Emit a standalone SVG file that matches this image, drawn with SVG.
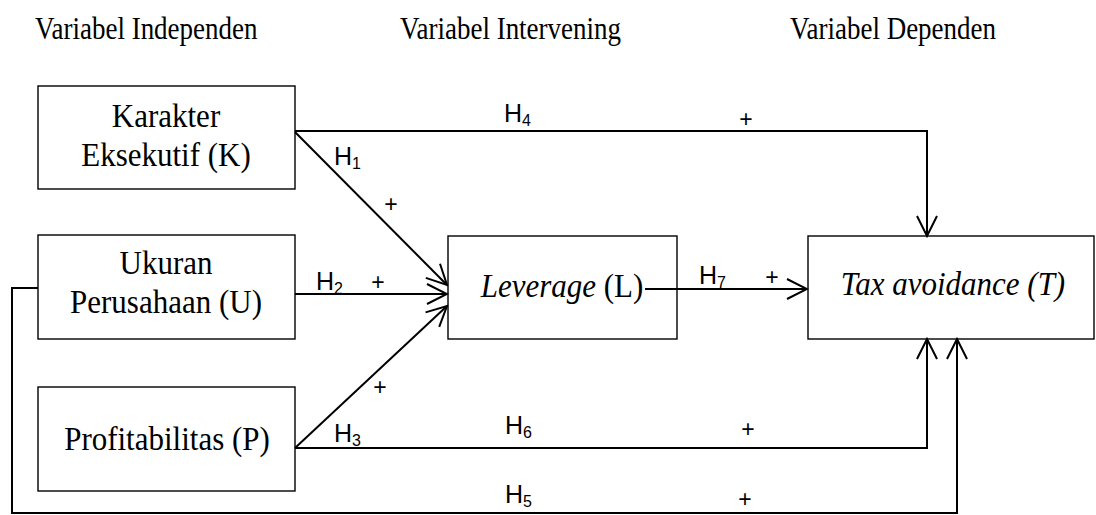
<svg xmlns="http://www.w3.org/2000/svg" width="1096" height="515" viewBox="0 0 1096 515">
<style>
.bg{fill:#fff}
.box{fill:none;stroke:#000;stroke-width:1.4}
.t{font-family:"Liberation Serif","Times New Roman",serif;font-size:31px;fill:#000}
.h{font-family:"Liberation Serif","Times New Roman",serif;font-size:27px;fill:#000}
.c{text-anchor:middle}
.lab{font-family:"Liberation Sans",Arial,sans-serif;font-size:25px;fill:#000}
.sub{font-size:16px}
.pl{font-family:"Liberation Sans",Arial,sans-serif;font-size:23px;fill:#000;text-anchor:middle}
.con{fill:none;stroke:#000;stroke-width:2}
</style>
<defs>
<marker id="arr" viewBox="-22 -12 24 24" refX="0" refY="0" markerWidth="24" markerHeight="24" markerUnits="userSpaceOnUse" orient="auto">
<path d="M-20,-10 L0,0 L-20,10" fill="none" stroke="#000" stroke-width="2"/>
</marker>
</defs>
<rect class="bg" x="0" y="0" width="1096" height="515"/>
<g id="headers">
<text class="h" transform="translate(35,39) scale(1,1.15)">Variabel Independen</text>
<text class="h" transform="translate(400,39) scale(1,1.15)">Variabel Intervening</text>
<text class="h" transform="translate(790,39) scale(1,1.15)">Variabel Dependen</text>
</g>
<g id="node-K">
<rect class="box" x="38" y="86" width="257" height="103"/>
<text class="t c" transform="translate(166,127) scale(1,1.1)">Karakter</text>
<text class="t c" transform="translate(166,166) scale(1,1.1)">Eksekutif (K)</text>
</g>
<g id="node-U">
<rect class="box" x="38" y="235" width="257" height="104"/>
<text class="t c" transform="translate(166,274) scale(1,1.1)">Ukuran</text>
<text class="t c" transform="translate(166,313) scale(1,1.1)">Perusahaan (U)</text>
</g>
<g id="node-P">
<rect class="box" x="38" y="387" width="257" height="104"/>
<text class="t c" transform="translate(167,450) scale(1,1.1)">Profitabilitas (P)</text>
</g>
<g id="node-L">
<rect class="box" x="448" y="236" width="229" height="103"/>
<text class="t c" transform="translate(562,297) scale(1,1.1)"><tspan font-style="italic">Leverage</tspan> (L)</text>
</g>
<g id="node-T">
<rect class="box" x="808" y="236" width="286" height="103"/>
<text class="t c" transform="translate(953,295) scale(1,1.1)" font-style="italic">Tax avoidance (T)</text>
</g>
<g id="connectors">
<path class="con" d="M295,131 H927 V236" marker-end="url(#arr)"/>
<path class="con" d="M295,132 L447,285" marker-end="url(#arr)"/>
<path class="con" d="M295,294 H447" marker-end="url(#arr)"/>
<path class="con" d="M295,448 L447,306" marker-end="url(#arr)"/>
<path class="con" d="M645,289 H807" marker-end="url(#arr)"/>
<path class="con" d="M295,448 H927 V339" marker-end="url(#arr)"/>
<path class="con" d="M38,288 H12 V513 H957 V339" marker-end="url(#arr)"/>
</g>
<g id="labels">
<text class="lab" x="504" y="122">H<tspan class="sub" dy="4">4</tspan></text>
<text class="pl" x="746" y="127">+</text>
<text class="lab" x="334" y="165">H<tspan class="sub" dy="4">1</tspan></text>
<text class="pl" x="391" y="212">+</text>
<text class="lab" x="316" y="290">H<tspan class="sub" dy="4">2</tspan></text>
<text class="pl" x="378" y="290">+</text>
<text class="lab" x="699" y="284">H<tspan class="sub" dy="4">7</tspan></text>
<text class="pl" x="772" y="285">+</text>
<text class="lab" x="334" y="442">H<tspan class="sub" dy="4">3</tspan></text>
<text class="pl" x="380" y="395">+</text>
<text class="lab" x="505" y="434">H<tspan class="sub" dy="4">6</tspan></text>
<text class="pl" x="748" y="437">+</text>
<text class="lab" x="505" y="503">H<tspan class="sub" dy="4">5</tspan></text>
<text class="pl" x="745" y="507">+</text>
</g>
</svg>
